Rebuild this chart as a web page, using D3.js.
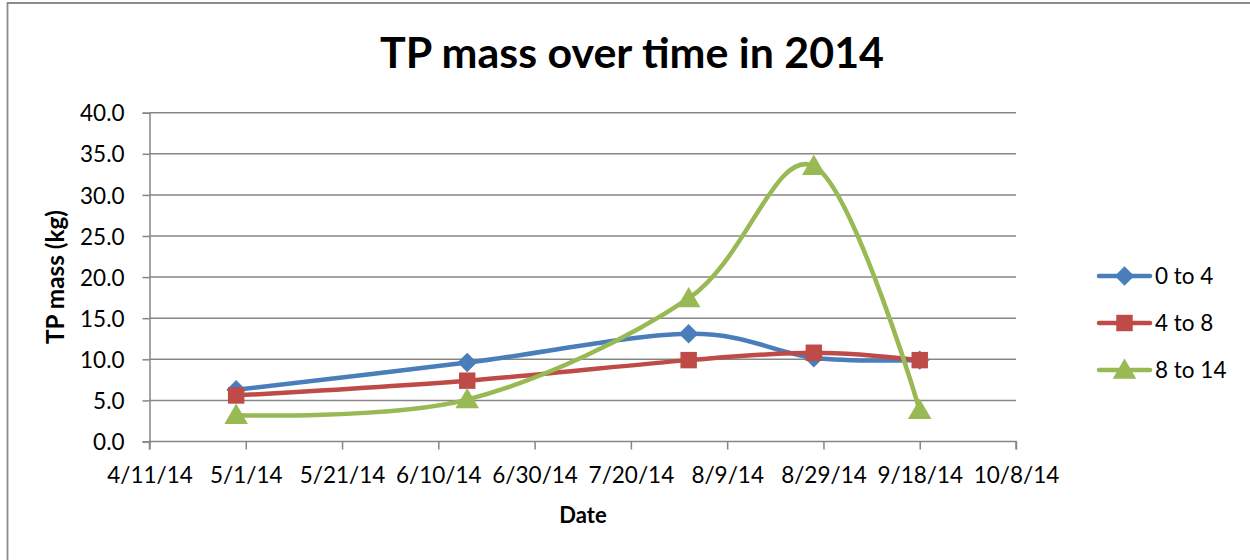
<!DOCTYPE html>
<html>
<head>
<meta charset="utf-8">
<script src="https://cdn.jsdelivr.net/npm/d3@7"></script>
<style>
  html, body { margin: 0; padding: 0; background: #fff; }
  svg { display: block; font-family: Lato, "Open Sans", sans-serif; }
</style>
</head>
<body>
<svg id="chart" width="1250" height="560"></svg>
<script>
// Sampling dates and TP mass (kg) per depth band
const sampleDates = ["4/29/14", "6/16/14", "8/1/14", "8/27/14", "9/18/14"];
const series0to4  = [6.3, 9.6, 13.1, 10.2, 9.9];
const series4to8  = [5.6, 7.4, 9.9, 10.8, 9.9];
const series8to14 = [3.2, 5.1, 17.4, 33.5, 3.8];
const seriesNames = ["0 to 4", "4 to 8", "8 to 14"];
const xTickLabels = ["4/11/14", "5/1/14", "5/21/14", "6/10/14", "6/30/14",
                     "7/20/14", "8/9/14", "8/29/14", "9/18/14", "10/8/14"];
const yTickValues = [0, 5, 10, 15, 20, 25, 30, 35, 40];

const parseDate = d3.utcParse("%m/%d/%y");
const colors = ["#4A7EBB", "#BE4B48", "#98B954"];

// a wide diamond (square turned 45°), like spreadsheet markers
const wideDiamond = {
  draw(ctx, size) {
    const r = Math.sqrt(size / 2);
    ctx.moveTo(0, -r); ctx.lineTo(r, 0); ctx.lineTo(0, r); ctx.lineTo(-r, 0); ctx.closePath();
  }
};
const symbols = [wideDiamond, d3.symbolSquare, d3.symbolTriangle];
const symbolSizes = [190, 270, 240];

const svg = d3.select("#chart");
const W = 1250, H = 560;
const plot = { left: 149.5, right: 1016, top: 112.7, bottom: 441.5 };

// outer chart frame
svg.append("path")
  .attr("d", `M7.5,${H} L7.5,3 L${W},3`)
  .attr("fill", "none").attr("stroke", "#8c8c8c").attr("stroke-width", 1.8);

const tickDates = xTickLabels.map(parseDate);
const x = d3.scaleUtc()
  .domain([tickDates[0], tickDates[tickDates.length - 1]])
  .range([plot.left, plot.right]);
const y = d3.scaleLinear().domain([0, 40]).range([plot.bottom, plot.top]);

// horizontal gridlines
svg.append("g")
  .selectAll("line").data(yTickValues.filter(v => v > 0)).join("line")
  .attr("x1", plot.left).attr("x2", plot.right)
  .attr("y1", d => y(d)).attr("y2", d => y(d))
  .attr("stroke", "#868686").attr("stroke-width", 1.5);

// y axis
const yAxis = svg.append("g")
  .attr("transform", `translate(${plot.left},0)`)
  .call(d3.axisLeft(y).tickValues(yTickValues).tickFormat(d3.format(".1f"))
    .tickSize(7).tickPadding(18));
yAxis.select(".domain").attr("stroke", "#868686").attr("stroke-width", 1.5);
yAxis.selectAll(".tick line").attr("stroke", "#868686").attr("stroke-width", 1.5);
yAxis.selectAll(".tick text")
  .attr("font-family", "Lato, sans-serif").attr("font-size", 22.5)
  .attr("fill", "#000").attr("dy", "0.36em");

// x axis
const xAxis = svg.append("g")
  .attr("transform", `translate(0,${plot.bottom})`)
  .call(d3.axisBottom(x).tickValues(tickDates)
    .tickFormat((d, i) => xTickLabels[i]).tickSize(8).tickPadding(18));
xAxis.select(".domain").attr("stroke", "#868686").attr("stroke-width", 1.5)
  .attr("d", `M${plot.left},8V0H${plot.right}V8`);
xAxis.selectAll(".tick line").attr("stroke", "#868686").attr("stroke-width", 1.5);
xAxis.selectAll(".tick text")
  .attr("font-family", "Lato, sans-serif").attr("font-size", 22.5)
  .attr("fill", "#000");

// series lines and markers
const allSeries = [series0to4, series4to8, series8to14];
const line = d3.line()
  .x(d => x(d.date)).y(d => y(d.value))
  .curve(d3.curveCatmullRom.alpha(0));

allSeries.forEach((vals, i) => {
  const pts = vals.map((v, j) => ({ date: parseDate(sampleDates[j]), value: v }));
  const g = svg.append("g");
  g.append("path").datum(pts)
    .attr("d", line)
    .attr("fill", "none").attr("stroke", colors[i])
    .attr("stroke-width", 4.5).attr("stroke-linejoin", "round").attr("stroke-linecap", "round");
  g.selectAll("path.m").data(pts).join("path")
    .attr("class", "m")
    .attr("transform", d => `translate(${x(d.date)},${y(d.value) + (i === 2 ? 2 : 0)})`)
    .attr("d", d3.symbol().type(symbols[i]).size(symbolSizes[i]))
    .attr("fill", colors[i]);
});

// legend
const legend = svg.append("g");
seriesNames.forEach((name, i) => {
  const ly = 276 + i * 47;
  const g = legend.append("g").attr("transform", `translate(0,${ly})`);
  g.append("line").attr("x1", 1099).attr("x2", 1150).attr("y1", 0).attr("y2", 0)
    .attr("stroke", colors[i]).attr("stroke-width", 4.5).attr("stroke-linecap", "round");
  g.append("path")
    .attr("transform", `translate(1124.5,${i === 2 ? 2 : 0})`)
    .attr("d", d3.symbol().type(symbols[i]).size(symbolSizes[i]))
    .attr("fill", colors[i]);
  g.append("text").attr("x", 1155).attr("y", 0).attr("dy", "0.36em")
    .attr("font-size", 22.5).attr("fill", "#000").text(name);
});

// title and axis titles
const title = svg.append("text")
  .attr("x", 632).attr("y", 68).attr("text-anchor", "middle")
  .attr("font-size", 40).attr("font-weight", "bold").attr("fill", "#000")
  .text("TP mass over time in 2014");
// keep the title at its intended printed width
const tw = title.node().getComputedTextLength();
title.attr("font-size", 40 * 504 / tw);

const yTitle = svg.append("text")
  .attr("transform", "translate(64,277) rotate(-90)")
  .attr("text-anchor", "middle").attr("font-size", 22).attr("font-weight", "bold")
  .attr("fill", "#000").text("TP mass (kg)");
const yw = yTitle.node().getComputedTextLength();
yTitle.attr("font-size", 22 * 134 / yw);

svg.append("text")
  .attr("x", 583).attr("y", 523).attr("text-anchor", "middle")
  .attr("font-size", 22).attr("font-weight", "bold").attr("fill", "#000")
  .text("Date");
</script>
</body>
</html>
